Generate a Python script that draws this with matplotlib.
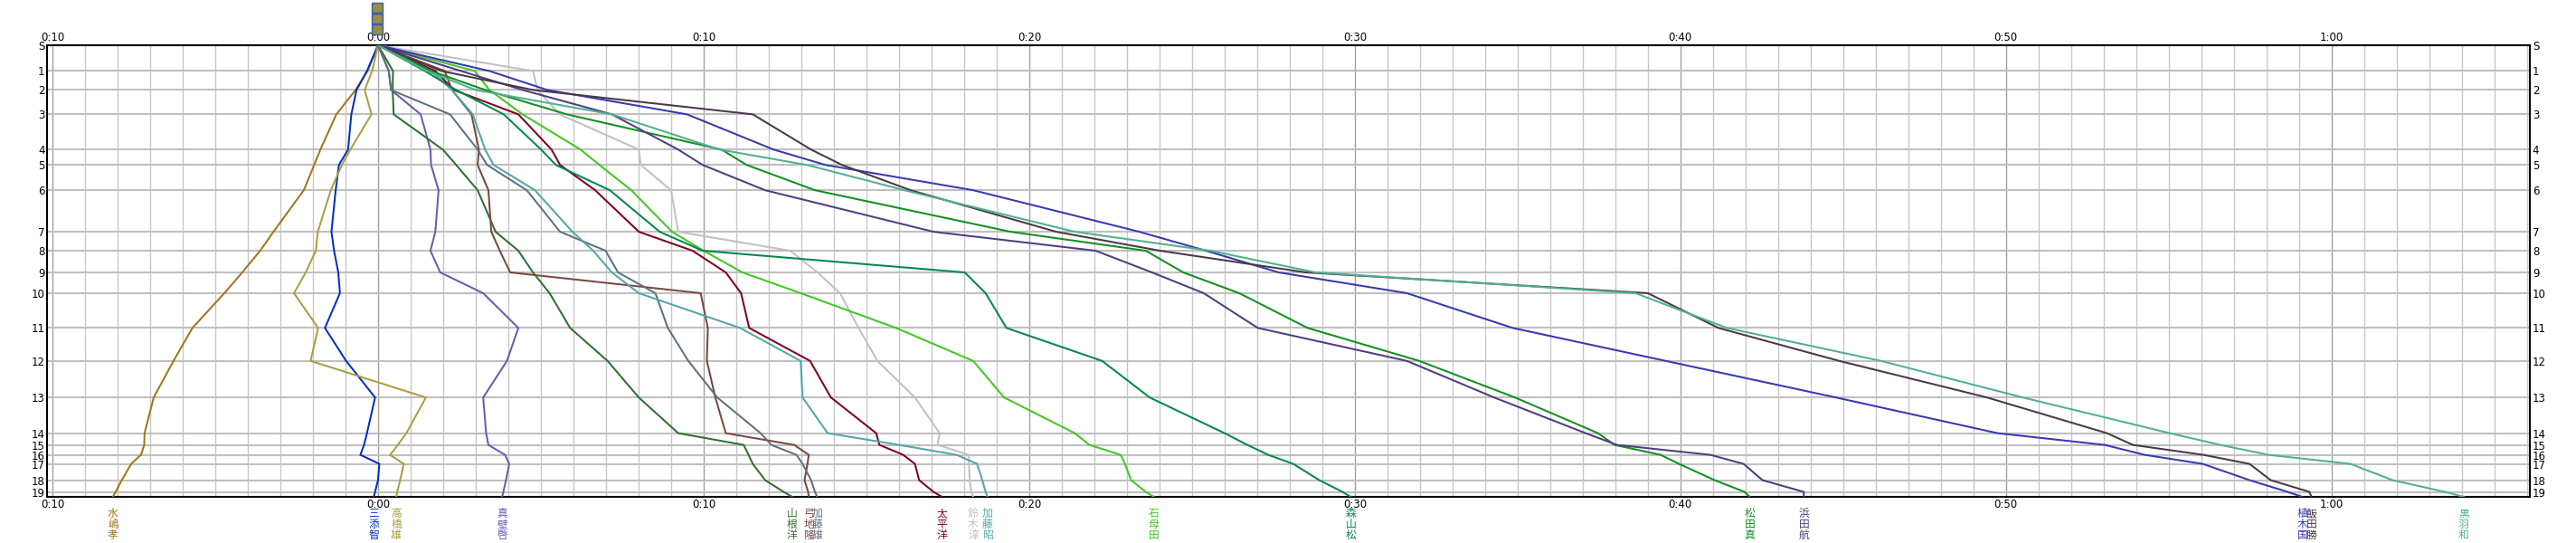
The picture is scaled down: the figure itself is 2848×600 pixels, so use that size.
import matplotlib
matplotlib.use("Agg")
import matplotlib.pyplot as plt
from matplotlib.ticker import MultipleLocator, FuncFormatter, FixedLocator
from matplotlib.patches import Rectangle
import matplotlib.transforms as mtransforms

# control points (cumulative course position) and their labels
ctrl_pos = [0, 57, 99, 153, 231, 265, 321, 413, 455, 503, 549, 626, 699, 780, 859, 885, 907, 927, 963, 989, 1000]
ctrl_labels = ["S"] + [str(i) for i in range(1, 20)] + [""]

# runners: name, colour, time loss (minutes) at S,1..19,F
names = ["水嶋孝", "三添智", "高橋雄", "真壁啓", "山根洋", "弓地隆", "加藤雄", "太平洋", "鈴木淳",
         "加藤昭", "石母田", "森山松", "松田真", "浜田航", "植木国", "飯田勝", "黒羽和"]
colors = ["#a07818", "#0030c0", "#a8a040", "#7058b0", "#2f6f2f", "#7a4840", "#607080", "#800020", "#c0c0c8",
          "#50a8a8", "#40c820", "#00884a", "#109020", "#503c80", "#3838b0", "#483848", "#50b090"]

mizushima = [0, -0.32, -0.69, -1.28, -1.77, -1.96, -2.28, -3.21, -3.62, -4.17, -4.72, -5.70, -6.28, -6.89, -7.17, -7.18, -7.28, -7.58, -7.87, -8.06, -8.14]
misoe = [0, -0.34, -0.66, -0.82, -0.92, -1.20, -1.30, -1.43, -1.35, -1.22, -1.17, -1.63, -0.98, -0.09, -0.34, -0.43, -0.54, 0.04, 0.00, -0.09, -0.13]
takahashi = [0, -0.18, -0.41, -0.20, -0.85, -1.11, -1.45, -1.85, -1.91, -2.22, -2.58, -1.84, -2.07, 1.47, 0.87, 0.61, 0.37, 0.79, 0.68, 0.59, 0.56]
makabe = [0, 0.33, 0.40, 1.31, 1.61, 1.63, 1.86, 1.76, 1.61, 1.91, 3.23, 4.31, 3.96, 3.23, 3.32, 3.39, 3.90, 4.03, 3.93, 3.85, 3.81]
yamane = [0, 0.46, 0.45, 0.48, 1.99, 2.40, 3.06, 3.61, 4.31, 4.76, 5.27, 5.90, 7.05, 8.01, 9.22, 11.23, 11.38, 11.51, 11.89, 12.46, 12.72]
yumichi = [0, 2.05, 2.27, 2.87, 3.10, 3.06, 3.39, 3.48, 3.74, 4.06, 9.91, 10.13, 10.10, 10.36, 10.68, 12.78, 13.23, 13.19, 13.10, 13.21, 13.23]
kato_y = [0, 0.33, 0.40, 2.21, 3.06, 3.35, 4.57, 5.59, 6.99, 7.37, 8.52, 8.90, 9.53, 10.42, 11.75, 12.08, 12.85, 13.04, 13.30, 13.42, 13.49]
taihei = [0, 1.76, 2.33, 4.31, 5.33, 5.59, 6.67, 8.01, 9.66, 10.68, 11.15, 11.40, 13.27, 13.91, 15.30, 15.40, 16.13, 16.49, 16.62, 17.06, 17.32]
suzuki = [0, 4.76, 4.90, 5.58, 8.01, 8.07, 9.00, 9.22, 12.66, 13.50, 14.19, 14.76, 15.34, 16.49, 17.25, 17.19, 18.15, 18.15, 18.17, 18.22, 18.28]
kato_a = [0, 1.63, 2.27, 2.91, 3.29, 3.55, 4.82, 5.97, 6.61, 7.18, 8.01, 11.12, 12.98, 13.04, 13.81, 16.00, 17.77, 18.40, 18.56, 18.66, 18.72]
ishimoda = [0, 2.97, 3.42, 4.44, 6.22, 6.80, 7.78, 9.03, 10.00, 11.19, 12.98, 15.91, 18.28, 19.23, 21.40, 21.85, 22.81, 22.94, 23.13, 23.58, 23.83]
moriyama = [0, 1.44, 2.40, 3.86, 5.01, 5.46, 7.12, 8.65, 9.97, 18.02, 18.66, 19.30, 22.24, 23.70, 26.00, 26.70, 27.34, 28.11, 28.91, 29.62, 29.87]
matsuda = [0, 1.63, 3.29, 5.80, 10.55, 11.32, 13.42, 19.43, 23.58, 24.73, 26.45, 28.55, 31.98, 34.92, 37.47, 37.98, 39.39, 39.96, 41.05, 41.97, 42.13]
hamada = [0, 2.55, 4.44, 7.18, 9.22, 9.97, 11.89, 17.06, 22.04, 23.77, 25.36, 27.02, 31.60, 34.28, 37.09, 38.05, 40.92, 41.94, 42.52, 43.79, 43.79]
ueki = [0, 3.42, 5.20, 9.49, 12.15, 13.74, 18.28, 23.38, 25.43, 27.66, 31.60, 34.85, 39.55, 44.78, 49.74, 53.03, 54.26, 56.04, 57.48, 58.65, 59.10]
iida = [0, 1.95, 4.76, 11.51, 13.30, 14.25, 16.36, 20.83, 24.02, 28.50, 39.00, 41.17, 44.88, 49.42, 53.10, 53.90, 56.06, 57.48, 58.13, 59.32, 59.38]
kurobane = [0, 1.50, 3.00, 7.18, 10.49, 13.17, 16.17, 21.40, 25.56, 28.80, 38.62, 41.43, 46.16, 50.52, 55.03, 56.58, 58.06, 60.58, 61.87, 63.48, 64.06]

series = [mizushima, misoe, takahashi, makabe, yamane, yumichi, kato_y, taihei, suzuki,
          kato_a, ishimoda, moriyama, matsuda, hamada, ueki, iida, kurobane]

W, H = 2848, 600
fig = plt.figure(figsize=(W / 100, H / 100), dpi=100)
fig.patch.set_facecolor("white")
L, R, T, B = 52.2, 2797, 50, 549
ax = fig.add_axes([L / W, 1 - B / H, (R - L) / W, (B - T) / H])

for vals, c in zip(series, colors):
    ax.plot(vals, ctrl_pos, color=c, lw=1.45, solid_joinstyle="miter", zorder=3)

ax.set_xlim(-10.16, 66.09)
ax.set_ylim(ctrl_pos[-1], ctrl_pos[0])


def fmt(m, pos=None):
    m = int(round(abs(m)))
    return f"{m // 60}:{m % 60:02d}"


ax.xaxis.set_major_locator(MultipleLocator(10))
ax.xaxis.set_minor_locator(MultipleLocator(1))
ax.xaxis.set_major_formatter(FuncFormatter(fmt))
ax.yaxis.set_major_locator(FixedLocator(ctrl_pos))
ax.set_yticklabels(ctrl_labels)

ax.grid(which="minor", axis="x", color="#c8c8c8", lw=1.0, zorder=0)
ax.grid(which="major", axis="x", color="#a0a0a0", lw=1.0, zorder=0)
ax.grid(which="major", axis="y", color="#c0c0c0", lw=1.5, zorder=0)
ax.set_axisbelow(True)

ax.tick_params(axis="both", which="both", length=0)
ax.tick_params(axis="x", labeltop=True, labelbottom=True, labelsize=8.5, pad=1.5)
ax.tick_params(axis="y", labelleft=True, labelright=True, labelsize=8.5, pad=2)
for lab in ax.get_xticklabels() + ax.get_yticklabels():
    lab.set_family("DejaVu Sans")

for sp in ax.spines.values():
    sp.set_color("black")
    sp.set_linewidth(1.5)

# runner names below the chart, stacked vertically at finish time
trans = mtransforms.blended_transform_factory(ax.transData, ax.transAxes)
for nm, vals, c in zip(names, series, colors):
    ax.text(vals[-1], -0.024, "\n".join(nm), transform=trans, ha="center", va="top",
            color=c, fontsize=8.5, linespacing=0.92, family=["Noto Sans CJK JP", "DejaVu Sans"],
            clip_on=False)

# small coloured marker stack above 0:00
x0 = 411 / W
for top in (3, 15, 27):
    fig.add_artist(Rectangle((x0, 1 - (top + 11) / H), 12 / W, 11 / H, transform=fig.transFigure,
                             facecolor="#9a8c48", edgecolor="#3060b0", lw=1.0))

fig.savefig("out.png", dpi=100, facecolor="white")
